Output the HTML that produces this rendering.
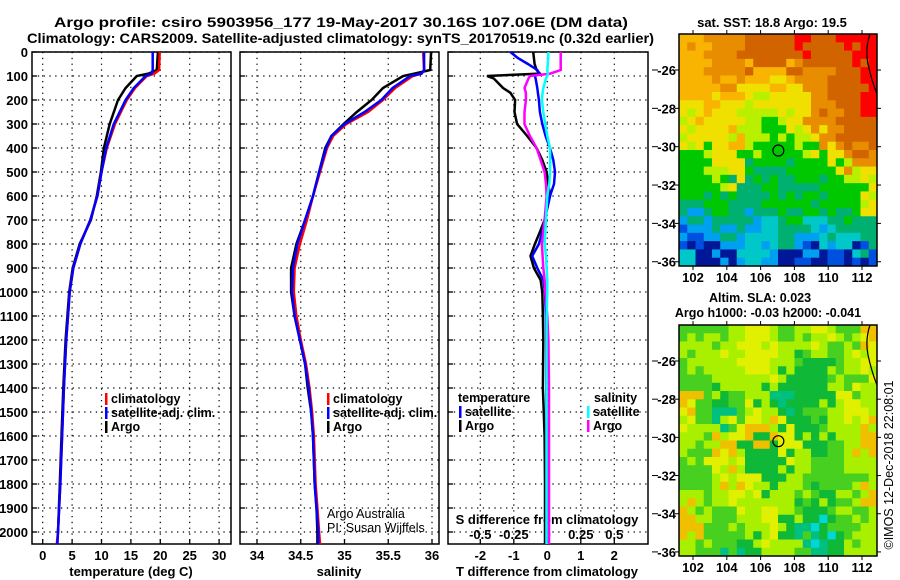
<!DOCTYPE html>
<html><head><meta charset="utf-8"><style>
body{margin:0;background:#fff;}
svg{display:block;font-family:"Liberation Sans",sans-serif;}
</style></head><body>
<svg id="fig" width="900" height="580" viewBox="0 0 900 580" xmlns="http://www.w3.org/2000/svg">
<rect width="900" height="580" fill="#fff"/>
<text x="54" y="27" font-size="14" font-weight="bold" textLength="574" lengthAdjust="spacingAndGlyphs">Argo profile: csiro 5903956_177 19-May-2017 30.16S 107.06E (DM data)</text>
<text x="27" y="43" font-size="14" font-weight="bold" textLength="627" lengthAdjust="spacingAndGlyphs">Climatology: CARS2009. Satellite-adjusted climatology: synTS_20170519.nc (0.32d earlier)</text>
<g id="g"></g>
</svg>
<script>
// ---- depth grid ----
const depthTicks=[0,100,200,300,400,500,600,700,800,900,1000,1100,1200,1300,1400,1500,1600,1700,1800,1900,2000];
// ---- temperature panel ----
const tTicks=[0,5,10,15,20,25,30];
const tDepthClim=[0,75,90,100,150,200,300,400,500,600,700,800,900,1000,1100,1200,1400,1600,1800,2000,2050];
const tClim=[19.9,19.8,19.0,17.7,15.7,14.3,12.3,10.9,10.0,9.3,8.1,6.4,5.2,4.6,4.3,4.0,3.6,3.3,3.0,2.6,2.4];
const tSat=[18.7,18.7,18.5,17.5,15.5,14.1,12.1,10.8,10.0,9.3,8.1,6.4,5.2,4.6,4.3,4.0,3.6,3.3,3.0,2.6,2.5];
const tDepthArgo=[0,75,90,100,150,200,300,400,500,600,700,800,900,1000,1100,1200,1400,1600,1800,2000];
const tArgo=[19.6,19.4,18.0,16.0,14.1,12.8,11.4,10.4,9.9,9.2,8.2,6.3,5.1,4.5,4.2,3.9,3.5,3.2,2.9,2.6];
// ---- salinity panel ----
const sTicks=[34,34.5,35,35.5,36];
const sDepth=[0,75,90,100,150,200,250,300,350,400,500,600,700,800,900,1000,1100,1200,1300,1400,1500,1600,1800,1900,2000,2050];
const sClim=[35.90,35.91,35.88,35.78,35.58,35.44,35.27,35.02,34.87,34.80,34.72,34.64,34.57,34.49,34.43,34.42,34.45,34.50,34.56,34.60,34.63,34.65,34.67,34.69,34.71,34.72];
const sSat=[35.91,35.91,35.88,35.75,35.55,35.42,35.23,35.00,34.85,34.79,34.71,34.64,34.55,34.46,34.41,34.40,34.43,34.49,34.55,34.59,34.62,34.64,34.66,34.68,34.70,34.70];
const sArgo=[35.99,35.98,35.80,35.67,35.44,35.31,35.14,34.99,34.85,34.78,34.71,34.64,34.55,34.45,34.39,34.39,34.43,34.49,34.55,34.58,34.62,34.64,34.66,34.68,34.69,34.69];
// ---- difference panel ----
const dTTicks=[-2,-1,0,1,2];
const dSTicks=[-0.5,-0.25,0,0.25,0.5];
const dSTickLabels=["-0.5","-0.25","0","0.25","0.5"];
const dDepth=[0,25,50,75,90,100,110,150,170,200,250,300,350,400,450,500,550,600,700,750,800,850,900,950,1000,1100,1200,1400,1600,1800,2000,2050];
const dTArgo=[-0.42,-0.40,-0.38,-0.32,-0.22,-1.8,-1.6,-1.32,-1.1,-0.96,-0.98,-0.9,-0.6,-0.32,-0.15,-0.02,0.03,0.08,-0.08,-0.22,-0.37,-0.5,-0.4,-0.2,-0.15,-0.13,-0.12,-0.13,-0.08,-0.07,-0.07,-0.07];
const dTSat=[-1.1,-0.88,-0.58,-0.3,-0.25,-0.37,-0.35,-0.3,-0.28,-0.25,-0.22,-0.15,-0.05,0.08,0.18,0.23,0.2,0.08,-0.08,-0.15,-0.25,-0.45,-0.3,-0.12,-0.07,-0.04,-0.03,-0.03,-0.02,-0.02,-0.02,-0.02];
const dSSat=[0.008,0.006,0.004,0.0,0.004,0.0,-0.01,-0.03,-0.035,-0.04,-0.03,-0.016,0.0,0.02,0.022,0.02,0.015,0.0,-0.01,-0.015,-0.02,-0.01,-0.005,0.0,0.0,-0.005,-0.006,-0.006,-0.006,-0.006,-0.006,-0.006];
const dSArgo=[0.10,0.10,0.10,0.10,0.022,-0.13,-0.14,-0.17,-0.16,-0.16,-0.17,-0.17,-0.13,-0.08,-0.05,-0.02,-0.01,-0.005,-0.02,-0.03,-0.04,-0.035,-0.03,-0.02,-0.015,0.0,0.008,0.013,0.013,0.013,0.013,0.013];
// ---- maps ----
const mapLonTicks=[102,104,106,108,110,112];
const mapLatTicks=[-26,-28,-30,-32,-34,-36];
const sstRows=[
"YOOODDDRDDRR","YYOODDDDDDDR","YYOOYYYOODDR","YYYYyyyyODDR","yYyyggyyODDR",
"gyyggGgyOODD","ygyYgGGgyODD","GGyyGGGGGyOO","GGgyTGTGGGgy","GGGTTGTGTGGg",
"TTGTTTGGGTGy","BBTTBCTTCTTT","bNBBCCTBBCCT","CNNBCBNbNbNb"];
const slaRows=[
"GLGLyLGLyLGO","LLLyyyLGLGLy","GLLLyyLDDGLy","GGLLLLDDDLGL","OGDGLDTDDLyL",
"yGTGyLDDGLyL","LLLyOOyDDLLO","LGOyDDyLDGLO","GGyLDDDLGGLL","GGLOyDLLGGGL",
"LGLyLLLGDLLO","OLGLLyLDDGGL","OLGGLyDTCDGL","LGGTDLLGTDLL"];
const sstColors={R:"#ff0000",D:"#d26400",O:"#e88c00",Y:"#f8b400",y:"#f0e000",g:"#b8f000",L:"#70e000",G:"#00c800",T:"#00b070",C:"#00c8c8",B:"#00a0f0",b:"#0050e0",N:"#001898"};
const slaColors={O:"#f0c000",y:"#e0f000",L:"#a8f000",G:"#48d020",D:"#10b838",T:"#00c080",C:"#00d8d8"};
const floatLon=107.05, floatLat=-30.2;

const NS="http://www.w3.org/2000/svg";
const G=document.getElementById("g");
function el(tag,attrs,parent){const e=document.createElementNS(NS,tag);for(const k in attrs)e.setAttribute(k,attrs[k]);(parent||G).appendChild(e);return e;}
function txt(x,y,s,size,anchor,bold,parent){const t=el("text",{x:x,y:y,"font-size":size,"text-anchor":anchor||"start","font-weight":bold===false?"normal":"bold"},parent);t.textContent=s;return t;}

const yTop=52, yBot=544;
const yD=d=>yTop+d*0.24;
const panels=[
 {x0:32,x1:231,fx:v=>42.7+5.88*v},
 {x0:240,x1:439,fx:v=>257+87.5*(v-34)},
 {x0:448,x1:648,fx:v=>547.3+33.5*v}];
const fxS=v=>547.3+134*v;

panels.forEach((p,i)=>{
 const grp=el("g",{});
 
 
 depthTicks.forEach(d=>{el("line",{x1:p.x0,x2:p.x1,y1:yD(d),y2:yD(d),stroke:"#000","stroke-width":1.2,"stroke-dasharray":"1.3 4.5"},grp);
   el("line",{x1:p.x0,x2:p.x0+5,y1:yD(d),y2:yD(d),stroke:"#000","stroke-width":1.3},grp);});
 const xt=i==0?tTicks:i==1?sTicks:dTTicks;
 xt.forEach(v=>{const x=p.fx(v);el("line",{x1:x,x2:x,y1:yTop,y2:yBot,stroke:"#000","stroke-width":1.2,"stroke-dasharray":"1.3 4.5"},grp);
   el("line",{x1:x,x2:x,y1:yBot,y2:yBot-5,stroke:"#000","stroke-width":1.3},grp);
   const t=txt(x,560,String(v),13,"middle",true,grp);
   
   });
 el("rect",{x:p.x0,y:yTop,width:p.x1-p.x0,height:yBot-yTop,fill:"none",stroke:"#000","stroke-width":1.5},grp);
});
depthTicks.forEach(d=>{const t=txt(28,yD(d)+5,String(d),13,"end",true);
 
 });
dSTicks.forEach((v,i)=>{const t=txt(fxS(v),539,dSTickLabels[i],13,"middle",true);
 
 });
[["temperature (deg C)",131],["salinity",339],["T difference from climatology",547]].forEach(a=>{const t=txt(a[1],576,a[0],13,"middle",true);
 
 });
const st=txt(547,524,"S difference from climatology",13,"middle",true);



function line(xs,ds,fx,color,name){
 const pts=xs.map((v,i)=>fx(v).toFixed(1)+","+yD(ds[i]).toFixed(1)).join(" ");
 const l=el("polyline",{points:pts,fill:"none",stroke:color,"stroke-width":2.5,"stroke-linejoin":"miter"});
 
 
}
line(tArgo,tDepthArgo,panels[0].fx,"#000","temp-argo-line");
line(tClim,tDepthClim,panels[0].fx,"#ff0000","temp-climatology-line");
line(tSat,tDepthClim,panels[0].fx,"#0000ff","temp-satellite-line");
line(sArgo,sDepth,panels[1].fx,"#000","sal-argo-line");
line(sClim,sDepth,panels[1].fx,"#ff0000","sal-climatology-line");
line(sSat,sDepth,panels[1].fx,"#0000ff","sal-satellite-line");
line(dTArgo,dDepth,panels[2].fx,"#000","t-diff-argo-line");
line(dTSat,dDepth,panels[2].fx,"#0000ff","t-diff-satellite-line");
line(dSArgo,dDepth,fxS,"#ff00ff","s-diff-argo-line");
line(dSSat,dDepth,fxS,"#00ffff","s-diff-satellite-line");

function leg(x,y,color,label,name){
 const g=el("g",{});
 
 
 el("rect",{x:x,y:y-10,width:2.5,height:12,fill:color},g);
 txt(x+6,y,label,12.5,"start",true,g);
}
leg(105,403,"#ff0000","climatology","legend-climatology");
leg(105,417,"#0000ff","satellite-adj. clim.","legend-satellite-adj");
leg(105,431,"#000","Argo","legend-argo");
leg(327,403,"#ff0000","climatology","legend-climatology-2");
leg(327,417,"#0000ff","satellite-adj. clim.","legend-satellite-adj-2");
leg(327,431,"#000","Argo","legend-argo-2");
const lt=txt(458,402,"temperature",12.5,"start",true);
const ls=txt(594,402,"salinity",12.5,"start",true);
leg(459,416,"#0000ff","satellite","legend-t-satellite");
leg(459,430,"#000","Argo","legend-t-argo");
leg(587,416,"#00ffff","satellite","legend-s-satellite");
leg(587,430,"#ff00ff","Argo","legend-s-argo");
const a1=txt(327,518,"Argo Australia",12.5,"start",false);
const a2=txt(327,532,"PI: Susan Wijffels",12.5,"start",false);

// maps
function drawMap(rows,colors,y0,y1,yLat26,name){
 const x0=679,x1=877;
 const pxLat=(y1-y0)/12.1;
 const fxLon=v=>693+(v-102)*16.9;
 const fyLat=v=>yLat26+(-26-v)*pxLat;
 const g=el("g",{});
 
 
 const nr=rows.length,nc=rows[0].length,cw=(x1-x0)/nc,ch=(y1-y0)/nr;
 rows.forEach((r,i)=>{for(let j=0;j<nc;j++){
   for(let a=0;a<2;a++)for(let b=0;b<2;b++){
     const ni=Math.min(nr-1,Math.max(0,i+(a?1:-1))), nj=Math.min(nc-1,Math.max(0,j+(b?1:-1)));
     const code=((i+j+a+b)%3==0)?rows[ni][j]:((i*2+j+a*b)%4==1?rows[i][nj]:r[j]);
     const c=el("rect",{x:(x0+j*cw+b*cw/2).toFixed(2),y:(y0+i*ch+a*ch/2).toFixed(2),width:(cw/2+0.5).toFixed(2),height:(ch/2+0.5).toFixed(2),fill:colors[code]},g);
     
     }}});
 el("path",{d:`M870 ${y0} Q865 ${y0+15} 868 ${y0+30} Q872 ${y0+48} 877 ${y0+60}`,fill:"none",stroke:"#000","stroke-width":1.2},g);
 el("rect",{x:x0,y:y0,width:x1-x0,height:y1-y0,fill:"none",stroke:"#000","stroke-width":1.5},g);
 mapLonTicks.forEach(v=>{const x=fxLon(v);el("line",{x1:x,x2:x,y1:y0,y2:y0-4,stroke:"#000"},g);el("line",{x1:x,x2:x,y1:y1,y2:y1+4,stroke:"#000"},g);
   txt(x,y1+16,String(v),13,"middle",true,g);});
 mapLatTicks.forEach(v=>{const y=fyLat(v);el("line",{x1:x0,x2:x0-4,y1:y,y2:y,stroke:"#000"},g);el("line",{x1:x1,x2:x1+4,y1:y,y2:y,stroke:"#000"},g);
   el("line",{x1:652,x2:658,y1:y,y2:y,stroke:"#000"},g);
   txt(676,y+5,String(v),13,"end",true,g);});
 const c=el("circle",{cx:fxLon(floatLon),cy:fyLat(floatLat),r:5.5,fill:"none",stroke:"#000","stroke-width":1.2},g);
 
 
}
drawMap(sstRows,sstColors,34,266,70,"sst-map");
drawMap(slaRows,slaColors,325,556,361,"sla-map");
const m1=txt(772,27,"sat. SST: 18.8 Argo: 19.5",13,"middle",true);
const m2=txt(760,302,"Altim. SLA: 0.023",12.5,"middle",true);
const m3=txt(768,317,"Argo h1000: -0.03 h2000: -0.041",12.5,"middle",true);
const cp=txt(0,0,"©IMOS 12-Dec-2018 22:08:01",12.5,"middle",false);
cp.setAttribute("transform","translate(893,465) rotate(-90)");


</script>
</body></html>
